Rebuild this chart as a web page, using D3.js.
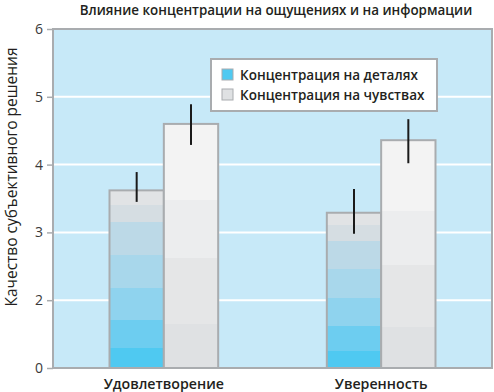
<!DOCTYPE html>
<html>
<head>
<meta charset="utf-8">
<script src="https://cdn.jsdelivr.net/npm/d3@7"></script>
<style>
  body { margin: 0; background: #fff; }
  text { font-family: "Open Sans", "Noto Sans", sans-serif; fill: #231f20; }
</style>
</head>
<body>
<svg id="chart"></svg>
<script>
// Chart data
const categories = ['Удовлетворение', 'Уверенность'];
const seriesNames = ['Концентрация на деталях', 'Концентрация на чувствах'];
const detailValues = [3.62, 3.29];
const feelingValues = [4.60, 4.36];
const detailErrLow = [3.45, 2.98];
const detailErrHigh = [3.89, 3.64];
const feelingErrLow = [4.29, 4.02];
const feelingErrHigh = [4.89, 4.67];
const tickValues = [1, 2, 3, 4, 5, 6];
const tickLabels = ['0', '2', '3', '4', '5', '6'];

const width = 494;
const height = 392;
const margin = { top: 29, right: 2, bottom: 24, left: 53 };

const svg = d3.select('#chart')
  .attr('width', width)
  .attr('height', height);

// Stepped gradients for bars
const defs = svg.append('defs');
const blueBands = [
  [0.11, '#4fc9f1'], [0.16, '#6dcdf0'], [0.18, '#8fd3ee'], [0.185, '#a8d7eb'],
  [0.185, '#bcd9e7'], [0.10, '#d5dde2'], [0.08, '#e1e3e5']
];
const grayBands = [
  [0.18, '#dfe1e3'], [0.27, '#e5e6e7'], [0.24, '#ecedee'], [0.31, '#f3f3f3']
];
function stepGradient(id, bands) {
  const g = defs.append('linearGradient')
    .attr('id', id)
    .attr('x1', 0).attr('y1', 1).attr('x2', 0).attr('y2', 0);
  let pos = 0;
  bands.forEach(([frac, color]) => {
    g.append('stop').attr('offset', pos).attr('stop-color', color);
    pos += frac;
    g.append('stop').attr('offset', Math.min(pos, 1)).attr('stop-color', color);
  });
}
stepGradient('blueGrad', blueBands);
stepGradient('grayGrad', grayBands);

const x = d3.scaleBand()
  .domain(categories)
  .range([margin.left, width - margin.right])
  .paddingInner(0.5)
  .paddingOuter(0.26);

const xSub = d3.scaleBand()
  .domain([0, 1])
  .range([0, x.bandwidth()]);

const y = d3.scaleLinear()
  .domain([1, 6])
  .range([height - margin.bottom, margin.top]);

// Plot background
svg.append('rect')
  .attr('x', margin.left)
  .attr('y', margin.top)
  .attr('width', width - margin.left - margin.right)
  .attr('height', height - margin.top - margin.bottom)
  .attr('fill', '#c7e9f8');

// Gridlines
svg.append('g')
  .selectAll('line')
  .data([2, 3, 4, 5])
  .join('line')
  .attr('x1', margin.left)
  .attr('x2', width - margin.right)
  .attr('y1', d => y(d))
  .attr('y2', d => y(d))
  .attr('stroke', '#fff')
  .attr('stroke-width', 2);

// Bars
const series = [
  { values: detailValues, lo: detailErrLow, hi: detailErrHigh, fill: 'url(#blueGrad)' },
  { values: feelingValues, lo: feelingErrLow, hi: feelingErrHigh, fill: 'url(#grayGrad)' }
];

series.forEach((s, si) => {
  svg.append('g')
    .selectAll('rect')
    .data(categories)
    .join('rect')
    .attr('x', d => x(d) + xSub(si))
    .attr('y', (d, i) => y(s.values[i]))
    .attr('width', xSub.bandwidth())
    .attr('height', (d, i) => y(1) - y(s.values[i]))
    .attr('fill', s.fill)
    .attr('stroke', '#a9acaf')
    .attr('stroke-width', 2);
});

series.forEach((s, si) => {
  svg.append('g')
    .selectAll('line')
    .data(categories)
    .join('line')
    .attr('x1', d => x(d) + xSub(si) + xSub.bandwidth() / 2)
    .attr('x2', d => x(d) + xSub(si) + xSub.bandwidth() / 2)
    .attr('y1', (d, i) => y(s.lo[i]))
    .attr('y2', (d, i) => y(s.hi[i]))
    .attr('stroke', '#1a1a1a')
    .attr('stroke-width', 2);
});

// Plot frame
svg.append('rect')
  .attr('x', margin.left)
  .attr('y', margin.top)
  .attr('width', width - margin.left - margin.right)
  .attr('height', height - margin.top - margin.bottom)
  .attr('fill', 'none')
  .attr('stroke', '#a9acaf')
  .attr('stroke-width', 2);

// Y axis
const yAxis = svg.append('g')
  .attr('transform', `translate(${margin.left},0)`)
  .call(d3.axisLeft(y)
    .tickValues(tickValues)
    .tickFormat((d, i) => tickLabels[i])
    .tickSize(6)
    .tickPadding(4));
yAxis.select('.domain').remove();
yAxis.selectAll('line').attr('stroke', '#a9acaf').attr('stroke-width', 1.5);
yAxis.selectAll('text')
  .style('font-size', '14px')
  .style('fill', '#3a3a3a');

// X axis labels
svg.append('g')
  .selectAll('text')
  .data(categories)
  .join('text')
  .attr('x', d => x(d) + x.bandwidth() / 2)
  .attr('y', height - 3)
  .attr('text-anchor', 'middle')
  .style('font-size', '14.2px')
  .style('font-weight', 600)
  .text(d => d);

// Y axis title
svg.append('text')
  .attr('transform', 'translate(17,177) rotate(-90)')
  .attr('text-anchor', 'middle')
  .style('font-size', '15.5px')
  .text('Качество субъективного решения');

// Title
svg.append('text')
  .attr('x', 276)
  .attr('y', 15)
  .attr('text-anchor', 'middle')
  .style('font-size', '13.4px')
  .style('font-weight', 600)
  .text('Влияние концентрации на ощущениях и на информации');

// Legend
const legend = svg.append('g').attr('transform', 'translate(211,59)');
legend.append('rect')
  .attr('width', 226)
  .attr('height', 52)
  .attr('fill', '#fff')
  .attr('stroke', '#a9acaf')
  .attr('stroke-width', 2);
const legendColors = ['#4fc9f1', '#dfe1e3'];
seriesNames.forEach((name, i) => {
  const row = legend.append('g').attr('transform', `translate(11,${10 + i * 20})`);
  row.append('rect')
    .attr('width', 11)
    .attr('height', 11)
    .attr('fill', legendColors[i])
    .attr('stroke', '#a9acaf')
    .attr('stroke-width', 1);
  row.append('text')
    .attr('x', 18)
    .attr('y', 10.5)
    .style('font-size', '13.5px')
    .style('font-weight', 600)
    .text(name);
});
</script>
</body>
</html>
